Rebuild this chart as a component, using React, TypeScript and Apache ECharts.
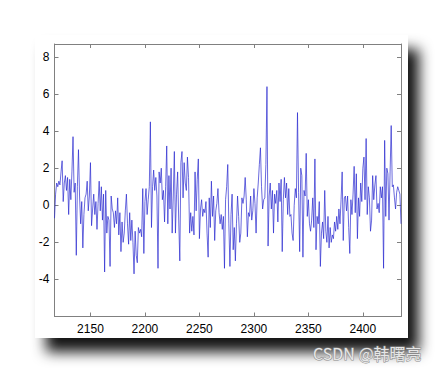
import React, { useEffect, useRef } from "react";
import * as echarts from "echarts";

const START_X = 2117;
const END_X = 2435;
const xTicks = [2150, 2200, 2250, 2300, 2350, 2400];
const yTicks = [-4, -2, 0, 2, 4, 6, 8];
const watermark = "CSDN @韩曙亮";

// one value per sample, x = 2117 ... 2435
const values = [
  -0.7, 0.6, 1.2, 1.0, 1.3, 1.1, 1.8, 2.4, 0.2, 1.2,
  1.6, 0.8, 1.5, -0.5, 1.4, 0.3, 1.8, 3.7, 0.7, 1.2,
  -2.7, 1.0, 3.0, 0.5, -1.0, 0.2, -2.3, -0.5, 0.4, 0.6,
  1.3, -0.3, 0.5, 2.3, -1.1, -0.2, 0.6, -0.5, 0.2, -1.3,
  0.1, 1.3, -0.3, 1.0, -0.8, 0.6, -3.6, 0.8, -1.5, -0.6,
  -0.8, -3.3, 0.5, -0.2, -0.4, -1.2, -0.3, -1.0, 0.4, -1.6,
  -0.4, -2.5, -0.9, -2.0, -1.5, -0.3, 0.6, -1.0, -2.1, -0.4,
  -1.9, -0.8, -2.0, -3.7, -1.4, -2.7, -3.1, -1.2, -1.5, -1.3,
  -1.7, 0.9, -2.6, 0.2, 0.9, -0.5, 0.3, 1.0, 4.5, -1.2,
  1.0, 1.9, 0.8, 1.5, 0.5, -3.4, 1.8, 1.2, 2.0, 0.3,
  0.8, -0.9, 1.0, 3.2, -1.0, 1.6, -0.2, 2.0, -1.5, 0.5,
  2.9, -1.5, 0.6, 1.8, -0.8, -3.0, 2.3, 2.9, 0.4, 2.3,
  1.2, 0.8, 2.6, 1.5, -1.5, -0.4, -1.4, -0.6, -1.6, 1.8,
  -0.3, 1.4, 2.5, -1.8, -0.2, 0.3, -0.6, -0.2, -0.4, 0.2,
  -1.5, -2.8, 0.4, -1.2, 1.3, -0.6, 0.5, -1.9, -0.3, 0.1,
  0.9, -0.4, -1.0, -0.5, -1.3, -0.6, -3.4, 0.3, 1.0, 2.2,
  -1.0, -3.3, -0.5, 0.6, -2.4, -1.2, -3.0, -1.0, 0.5, -0.6,
  -2.0, -1.5, 0.4, 0.1, 0.5, 1.5, 0.3, -1.7, -0.4, -0.6,
  0.5, -0.8, -0.3, 0.9, 0.1, -1.5, 0.4, 1.2, 2.2, 3.1,
  1.0, -0.2, 0.3, 0.4, 2.2, 6.4, -2.2, 0.5, 1.2, -0.2,
  0.8, -1.5, 0.6, 0.1, 0.8, -0.9, 1.2, 0.2, 1.4, -2.5,
  0.3, 1.5, 0.4, 1.2, -0.5, 0.9, -0.6, -0.5, -1.5, -1.9,
  0.0, 0.9, 0.4, 5.0, 0.7, -2.5, 2.0, 1.6, -2.8, 0.8,
  0.5, 2.8, -0.6, 0.3, -1.0, -1.4, -0.8, 0.4, -1.2, 2.5,
  -2.4, -0.6, -1.0, 0.2, -3.3, -1.5, -0.9, -1.8, 0.8, -1.4,
  -2.0, -0.6, -2.3, -1.2, -2.0, -1.6, -1.8, -0.9, -1.4, -0.6,
  -1.3, -0.2, -1.0, 0.3, 1.8, -1.9, 0.4, 0.5, -0.3, 0.5,
  -1.2, -2.6, 0.3, -0.5, 0.6, 2.1, -0.4, 1.7, -1.8, 0.4,
  -0.6, 1.2, 0.2, 2.0, 2.6, 0.3, 3.6, -0.5, 1.0, 0.4,
  -1.4, -0.8, 1.6, 0.3, 1.1, 1.6, -0.2, 0.1, -0.4, 1.0,
  0.4, 1.0, -3.4, 3.5, -0.6, 2.0, 1.7, -0.8, 1.8, 4.3,
  1.0, 1.1, 0.4, -0.2, 0.7, 1.0, 0.8, 0.6, -1.0,
];

export default function App() {
  const ref = useRef<HTMLDivElement>(null);
  useEffect(() => {
    if (!ref.current) return;
    const chart = echarts.init(ref.current, null, { renderer: "svg" });
    const data = values.map((v, i) => [START_X + i, v]);
    const axisColor = "#808080";
    const labelFont = {
      color: "#000",
      fontSize: 12,
      fontFamily: "Liberation Sans, Arial, sans-serif",
      formatter: (v: number) => String(v),
    };
    const axisLine = { show: true, onZero: false, lineStyle: { color: axisColor, width: 1 } };
    chart.setOption({
      animation: false,
      backgroundColor: "#fff",
      graphic: {
        elements: [
          {
            type: "rect",
            z: -100,
            silent: true,
            shape: { x: 35, y: 35, width: 373, height: 303 },
            style: {
              fill: "#fff",
              shadowBlur: 14,
              shadowOffsetX: 11,
              shadowOffsetY: 14,
              shadowColor: "rgba(0,0,0,0.92)",
            },
          },
          {
            type: "text",
            z: 100,
            silent: true,
            x: 313,
            y: 345,
            style: {
              text: watermark,
              fontSize: 16,
              fontFamily: "Noto Sans CJK SC, sans-serif",
              fill: "#e6e6e6",
              stroke: "#8a8a8a",
              lineWidth: 1,
            },
          },
        ],
      },
      grid: { left: 54.5, right: 42, top: 44, bottom: 57.5, containLabel: false },
      xAxis: [
        {
          type: "value",
          min: START_X,
          max: END_X,
          position: "bottom",
          axisLine,
          axisTick: { show: true, inside: true, length: 4, customValues: xTicks, lineStyle: { color: axisColor } },
          axisLabel: { ...labelFont, margin: 6, customValues: xTicks },
          splitLine: { show: false },
        },
        {
          type: "value",
          min: START_X,
          max: END_X,
          position: "top",
          axisLine,
          axisTick: { show: true, inside: true, length: 4, customValues: xTicks, lineStyle: { color: axisColor } },
          axisLabel: { show: false },
          splitLine: { show: false },
        },
      ],
      yAxis: [
        {
          type: "value",
          min: -6,
          max: 8.7,
          position: "left",
          axisLine,
          axisTick: { show: true, inside: true, length: 4, customValues: yTicks, lineStyle: { color: axisColor } },
          axisLabel: { ...labelFont, margin: 5, customValues: yTicks },
          splitLine: { show: false },
        },
        {
          type: "value",
          min: -6,
          max: 8.7,
          position: "right",
          axisLine,
          axisTick: { show: true, inside: true, length: 4, customValues: yTicks, lineStyle: { color: axisColor } },
          axisLabel: { show: false },
          splitLine: { show: false },
        },
      ],
      series: [
        {
          type: "line",
          data,
          xAxisIndex: 0,
          yAxisIndex: 0,
          showSymbol: false,
          symbol: "none",
          lineStyle: { color: "#2a2ad0", width: 0.7 },
        },
      ],
    });
    return () => chart.dispose();
  }, []);
  return (
    <div
      ref={ref}
      style={{ position: "fixed", left: 0, top: 0, width: 443, height: 374 }}
    />
  );
}
